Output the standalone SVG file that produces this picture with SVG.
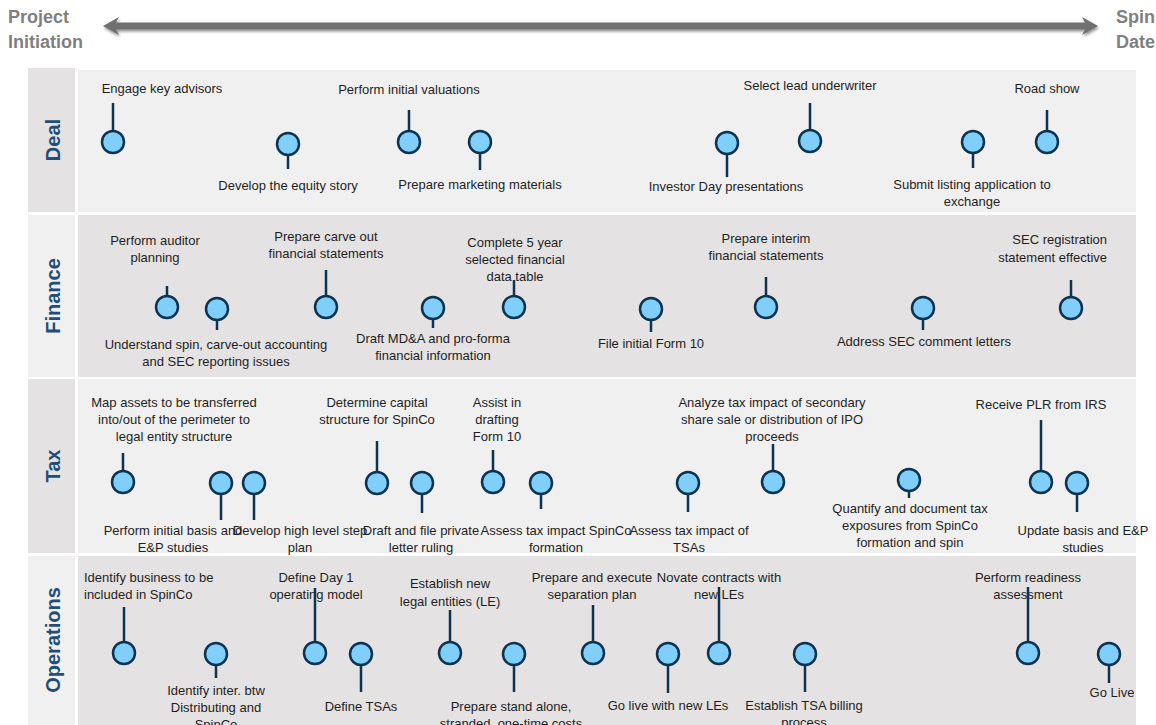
<svg xmlns="http://www.w3.org/2000/svg" width="1156" height="725" viewBox="0 0 1156 725">
<defs>
<filter id="shadow" x="-5%" y="-100%" width="110%" height="300%">
<feGaussianBlur in="SourceAlpha" stdDeviation="1.5"/>
<feOffset dx="1" dy="2" result="b"/>
<feComponentTransfer><feFuncA type="linear" slope="0.45"/></feComponentTransfer>
<feMerge><feMergeNode/><feMergeNode in="SourceGraphic"/></feMerge>
</filter>
</defs>
<style>
.hdr{font-family:"Liberation Sans",Arial,sans-serif;font-weight:bold;font-size:18px;fill:#7f7f7f}
.lane{font-family:"Liberation Sans",Arial,sans-serif;font-weight:bold;font-size:20px;fill:#1f4e79}
.t{font-family:"Liberation Sans",Arial,sans-serif;font-size:13px;fill:#1e1e1e;text-anchor:middle}
.l{text-anchor:start}
.e{text-anchor:end}
.dot{fill:#80cffb;stroke:#0d3350;stroke-width:2.5}
.stem{stroke:#0d3350;stroke-width:2.5;fill:none}
.light{fill:#f0f0f0}
.dark{fill:#e4e2e2}
</style>
<rect width="1156" height="725" fill="#ffffff"/>

<g id="timeline">
<text class="hdr" x="8" y="23">Project</text>
<text class="hdr" x="8" y="48">Initiation</text>
<text class="hdr e" x="1155" y="23" text-anchor="end">Spin</text>
<text class="hdr e" x="1155" y="48" text-anchor="end">Date</text>
<polygon filter="url(#shadow)" fill="#707070" points="103,26 119,17 116,22.5 1085,22.5 1082,17 1098,26 1082,35 1085,29.5 116,29.5 119,35"/>
</g>

<g id="lanes">
<rect class="dark" x="28" y="68" width="47" height="144"/>
<rect class="light" x="78" y="70" width="1058" height="142"/>
<text class="lane" transform="translate(60,140) rotate(-90)" text-anchor="middle">Deal</text>
<rect class="light" x="28" y="215" width="47" height="162"/>
<rect class="dark" x="78" y="215" width="1058" height="162"/>
<text class="lane" transform="translate(60,296) rotate(-90)" text-anchor="middle">Finance</text>
<rect class="dark" x="28" y="379" width="47" height="174"/>
<rect class="light" x="78" y="379" width="1058" height="174"/>
<text class="lane" transform="translate(60,466) rotate(-90)" text-anchor="middle">Tax</text>
<rect class="light" x="28" y="556" width="47" height="169"/>
<rect class="dark" x="78" y="556" width="1058" height="169"/>
<text class="lane" transform="translate(60,640) rotate(-90)" text-anchor="middle">Operations</text>
</g>

<!-- Deal -->
<g id="d1"><circle class="dot" cx="113" cy="142" r="11"/><text class="t" x="162" y="92.5">Engage key advisors</text></g>
<g id="d2"><circle class="dot" cx="288" cy="144" r="11"/><text class="t" x="288" y="189.5">Develop the equity story</text></g>
<g id="d3"><circle class="dot" cx="409" cy="142" r="11"/><text class="t" x="409" y="93.5">Perform initial valuations</text></g>
<g id="d4"><circle class="dot" cx="480" cy="142" r="11"/><text class="t" x="480" y="188.5">Prepare marketing materials</text></g>
<g id="d5"><circle class="dot" cx="727" cy="143" r="11"/><text class="t" x="726" y="190.5">Investor Day presentations</text></g>
<g id="d6"><circle class="dot" cx="810" cy="141" r="11"/><text class="t" x="810" y="89.5">Select lead underwriter</text></g>
<g id="d7"><circle class="dot" cx="973" cy="142" r="11"/><text class="t" x="972" y="188.5">Submit listing application to</text><text class="t" x="972" y="205.5">exchange</text></g>
<g id="d8"><circle class="dot" cx="1047" cy="142" r="11"/><text class="t" x="1047" y="92.5">Road show</text></g>

<!-- Finance -->
<g id="f1"><circle class="dot" cx="167" cy="307" r="11"/><text class="t" x="155" y="244.5">Perform auditor</text><text class="t" x="155" y="261.5">planning</text></g>
<g id="f2"><circle class="dot" cx="217" cy="309" r="11"/><text class="t" x="216" y="348.5">Understand spin, carve-out accounting</text><text class="t" x="216" y="365.5">and SEC reporting issues</text></g>
<g id="f3"><circle class="dot" cx="326" cy="307" r="11"/><text class="t" x="326" y="240.5">Prepare carve out</text><text class="t" x="326" y="257.5">financial statements</text></g>
<g id="f4"><circle class="dot" cx="433" cy="308" r="11"/><text class="t" x="433" y="342.5">Draft MD&amp;A and pro-forma</text><text class="t" x="433" y="359.5">financial information</text></g>
<g id="f5"><circle class="dot" cx="514" cy="307" r="11"/><text class="t" x="515" y="246.5">Complete 5 year</text><text class="t" x="515" y="263.5">selected financial</text><text class="t" x="515" y="281">data table</text></g>
<g id="f6"><circle class="dot" cx="651" cy="309" r="11"/><text class="t" x="651" y="347.5">File initial Form 10</text></g>
<g id="f7"><circle class="dot" cx="766" cy="307" r="11"/><text class="t" x="766" y="242.5">Prepare interim</text><text class="t" x="766" y="259.5">financial statements</text></g>
<g id="f8"><circle class="dot" cx="923" cy="308" r="11"/><text class="t" x="924" y="345.5">Address SEC comment letters</text></g>
<g id="f9"><circle class="dot" cx="1071" cy="308" r="11"/><text class="t e" x="1107" y="243.5">SEC registration</text><text class="t e" x="1107" y="261.5">statement effective</text></g>

<!-- Tax -->
<g id="t1"><circle class="dot" cx="123" cy="482" r="11"/><text class="t" x="174" y="406.5">Map assets to be transferred</text><text class="t" x="174" y="423.5">into/out of the perimeter to</text><text class="t" x="174" y="440.5">legal entity structure</text></g>
<g id="t2"><circle class="dot" cx="221" cy="483" r="11"/><text class="t" x="173" y="534.5">Perform initial basis and</text><text class="t" x="173" y="552">E&amp;P studies</text></g>
<g id="t3"><circle class="dot" cx="254" cy="483" r="11"/><text class="t" x="300" y="534.5">Develop high level step</text><text class="t" x="300" y="552">plan</text></g>
<g id="t4"><circle class="dot" cx="377" cy="483" r="11"/><text class="t" x="377" y="406.5">Determine capital</text><text class="t" x="377" y="423.5">structure for SpinCo</text></g>
<g id="t5"><circle class="dot" cx="422" cy="483" r="11"/><text class="t" x="421" y="534.5">Draft and file private</text><text class="t" x="421" y="551.5">letter ruling</text></g>
<g id="t6"><circle class="dot" cx="493" cy="482" r="11"/><text class="t" x="497" y="406.5">Assist in</text><text class="t" x="497" y="423.5">drafting</text><text class="t" x="497" y="440.5">Form 10</text></g>
<g id="t7"><circle class="dot" cx="541" cy="483" r="11"/><text class="t" x="556" y="534.5">Assess tax impact SpinCo</text><text class="t" x="556" y="551.5">formation</text></g>
<g id="t8"><circle class="dot" cx="688" cy="483" r="11"/><text class="t" x="689" y="534.5">Assess tax impact of</text><text class="t" x="689" y="551.5">TSAs</text></g>
<g id="t9"><circle class="dot" cx="773" cy="482" r="11"/><text class="t" x="772" y="406.5">Analyze tax impact of secondary</text><text class="t" x="772" y="423.5">share sale or distribution of IPO</text><text class="t" x="772" y="440.5">proceeds</text></g>
<g id="t10"><circle class="dot" cx="909" cy="480" r="11"/><text class="t" x="910" y="512.5">Quantify and document tax</text><text class="t" x="910" y="529.5">exposures from SpinCo</text><text class="t" x="910" y="546.5">formation and spin</text></g>
<g id="t11"><circle class="dot" cx="1041" cy="482" r="11"/><text class="t" x="1041" y="408.5">Receive PLR from IRS</text></g>
<g id="t12"><circle class="dot" cx="1077" cy="483" r="11"/><text class="t" x="1083" y="534.5">Update basis and E&amp;P</text><text class="t" x="1083" y="551.5">studies</text></g>

<!-- Operations -->
<g id="o1"><circle class="dot" cx="124" cy="653" r="11"/><text class="t l" x="84" y="581.5">Identify business to be</text><text class="t l" x="84" y="598.5">included in SpinCo</text></g>
<g id="o2"><circle class="dot" cx="216" cy="654" r="11"/><text class="t" x="216" y="694.5">Identify inter. btw</text><text class="t" x="216" y="711.5">Distributing and</text><text class="t" x="216" y="728.5">SpinCo</text></g>
<g id="o3"><circle class="dot" cx="315" cy="653" r="11"/><text class="t" x="316" y="581.5">Define Day 1</text><text class="t" x="316" y="598.5">operating model</text></g>
<g id="o4"><circle class="dot" cx="361" cy="654" r="11"/><text class="t" x="361" y="710.5">Define TSAs</text></g>
<g id="o5"><circle class="dot" cx="450" cy="653" r="11"/><text class="t" x="450" y="587.5">Establish new</text><text class="t" x="450" y="605.5">legal entities (LE)</text></g>
<g id="o6"><circle class="dot" cx="514" cy="654" r="11"/><text class="t" x="511" y="710.5">Prepare stand alone,</text><text class="t" x="511" y="727.5">stranded, one-time costs</text></g>
<g id="o7"><circle class="dot" cx="593" cy="653" r="11"/><text class="t" x="592" y="581.5">Prepare and execute</text><text class="t" x="592" y="598.5">separation plan</text></g>
<g id="o8"><circle class="dot" cx="668" cy="654" r="11"/><text class="t" x="668" y="709.5">Go live with new LEs</text></g>
<g id="o9"><circle class="dot" cx="719" cy="653" r="11"/><text class="t" x="719" y="581.5">Novate contracts with</text><text class="t" x="719" y="598.5">new LEs</text></g>
<g id="o10"><circle class="dot" cx="805" cy="654" r="11"/><text class="t" x="804" y="709.5">Establish TSA billing</text><text class="t" x="804" y="726.5">process</text></g>
<g id="o11"><circle class="dot" cx="1028" cy="653" r="11"/><text class="t" x="1028" y="581.5">Perform readiness</text><text class="t" x="1028" y="598.5">assessment</text></g>
<g id="o12"><circle class="dot" cx="1109" cy="654" r="11"/><text class="t" x="1112" y="696.5">Go Live</text></g>

<g id="connectors" class="stem">
<line x1="113" y1="131" x2="113" y2="103"/>
<line x1="288" y1="155" x2="288" y2="169"/>
<line x1="409" y1="131" x2="409" y2="110"/>
<line x1="480" y1="153" x2="480" y2="170"/>
<line x1="727" y1="154" x2="727" y2="177"/>
<line x1="810" y1="130" x2="810" y2="103"/>
<line x1="973" y1="153" x2="973" y2="168"/>
<line x1="1047" y1="131" x2="1047" y2="110"/>

<line x1="167" y1="296" x2="167" y2="286"/>
<line x1="217" y1="320" x2="217" y2="330"/>
<line x1="326" y1="296" x2="326" y2="270"/>
<line x1="433" y1="319" x2="433" y2="328"/>
<line x1="514" y1="296" x2="514" y2="280"/>
<line x1="651" y1="320" x2="651" y2="332"/>
<line x1="766" y1="296" x2="766" y2="277"/>
<line x1="923" y1="319" x2="923" y2="330"/>
<line x1="1071" y1="297" x2="1071" y2="280"/>

<line x1="123" y1="471" x2="123" y2="453"/>
<line x1="221" y1="494" x2="221" y2="520"/>
<line x1="254" y1="494" x2="254" y2="520"/>
<line x1="377" y1="472" x2="377" y2="441"/>
<line x1="422" y1="494" x2="422" y2="513"/>
<line x1="493" y1="471" x2="493" y2="450"/>
<line x1="541" y1="494" x2="541" y2="509"/>
<line x1="688" y1="494" x2="688" y2="512"/>
<line x1="773" y1="471" x2="773" y2="444"/>
<line x1="909" y1="491" x2="909" y2="498"/>
<line x1="1041" y1="471" x2="1041" y2="420"/>
<line x1="1077" y1="494" x2="1077" y2="512"/>

<line x1="124" y1="642" x2="124" y2="607"/>
<line x1="216" y1="665" x2="216" y2="678"/>
<line x1="315" y1="642" x2="315" y2="588"/>
<line x1="361" y1="665" x2="361" y2="692"/>
<line x1="450" y1="642" x2="450" y2="610"/>
<line x1="514" y1="665" x2="514" y2="692"/>
<line x1="593" y1="642" x2="593" y2="605"/>
<line x1="668" y1="665" x2="668" y2="693"/>
<line x1="719" y1="642" x2="719" y2="587"/>
<line x1="805" y1="665" x2="805" y2="692"/>
<line x1="1028" y1="642" x2="1028" y2="587"/>
<line x1="1109" y1="665" x2="1109" y2="683"/>
</g>
</svg>
